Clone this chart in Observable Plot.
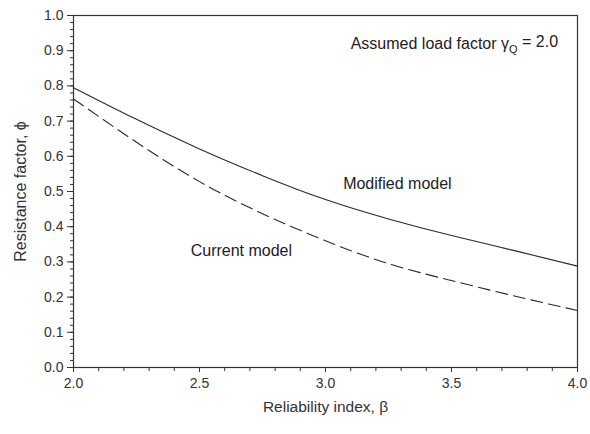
<!DOCTYPE html>
<html>
<head>
<meta charset="utf-8">
<script src="https://cdn.jsdelivr.net/npm/d3@7"></script>
<script src="https://cdn.jsdelivr.net/npm/@observablehq/plot@0.6"></script>
<style>
  body { margin: 0; background: #fff; }
  #chart { width: 590px; height: 434px; }
</style>
</head>
<body>
<div id="chart"></div>
<script>
const beta = [2.0, 2.25, 2.5, 2.75, 3.0, 3.25, 3.5, 3.75, 4.0];
const modifiedModel = [0.795, 0.705, 0.621, 0.545, 0.477, 0.422, 0.375, 0.332, 0.288];
const currentModel = [0.763, 0.640, 0.528, 0.437, 0.360, 0.295, 0.247, 0.203, 0.162];
const xMajorTicks = [2.0, 2.5, 3.0, 3.5, 4.0];
const xMinorTicks = d3.range(0, 21).map(i => 2 + i * 0.1);
const yMajorTicks = d3.range(0, 11).map(i => i / 10);
const yMinorTicks = d3.range(0, 51).map(i => i / 50);
const labels = [
  {x: 3.1, y: 0.92, text: "Assumed load factor γQ = 2.0"},
  {x: 3.07, y: 0.523, text: "Modified model"},
  {x: 2.465, y: 0.332, text: "Current model"}
];

const rows = (vals) => beta.map((b, i) => ({beta: b, phi: vals[i]}));
const ink = "#2a2a2a";
const font = "'Liberation Sans', Arial, sans-serif";
const fmt = d3.format(".1f");

const chart = Plot.plot({
  width: 590,
  height: 434,
  marginLeft: 73,
  marginRight: 13,
  marginTop: 15,
  marginBottom: 67,
  style: {fontFamily: font, fontSize: "14px", color: "#333", background: "#fff"},
  x: {domain: [2, 4]},
  y: {domain: [0, 1]},
  marks: [
    Plot.frame({stroke: "#333", strokeWidth: 1.2}),
    Plot.axisX({ticks: xMinorTicks, tickSize: 4, text: null, label: null, stroke: "#333"}),
    Plot.axisX({ticks: xMajorTicks, tickSize: 5, text: null, label: null, stroke: "#333"}),
    Plot.axisY({ticks: yMinorTicks, tickSize: 3, text: null, label: null, stroke: "#333"}),
    Plot.axisY({ticks: yMajorTicks, tickSize: 6, text: null, label: null, stroke: "#333"}),
    Plot.text(xMajorTicks, {x: d => d, frameAnchor: "bottom", lineAnchor: "top", dy: 11, text: fmt, fontSize: 14, fill: "#333"}),
    Plot.text(yMajorTicks, {y: d => d, frameAnchor: "left", textAnchor: "end", dx: -10, text: fmt, fontSize: 14, fill: "#333"}),
    Plot.text(["Reliability index, β"], {frameAnchor: "bottom", dy: 44, fontSize: 15.5, fill: "#333"}),
    Plot.text(["Resistance factor, ϕ"], {frameAnchor: "left", textAnchor: "middle", dx: -53, rotate: -90, fontSize: 16, fill: "#333"}),
    Plot.line(rows(modifiedModel), {x: "beta", y: "phi", stroke: ink, strokeWidth: 1.1, curve: "natural"}),
    Plot.line(rows(currentModel), {x: "beta", y: "phi", stroke: ink, strokeWidth: 1.1, strokeDasharray: "12,6", curve: "natural"}),
    Plot.text(labels, {x: "x", y: "y", text: "text", textAnchor: "start", fontSize: 16, fill: "#222"})
  ]
});

// Render the subscript Q in the annotation
d3.select(chart).selectAll("text").each(function() {
  const t = d3.select(this);
  const s = t.text();
  if (s.includes("γQ")) {
    const [a, b] = s.split("γQ");
    t.text(null);
    t.append("tspan").text(a + "γ");
    t.append("tspan").attr("font-size", "11px").attr("dy", "0.4em").text("Q");
    t.append("tspan").attr("dy", "-0.4em").text(b);
  }
});

document.getElementById("chart").appendChild(chart);
</script>
</body>
</html>
